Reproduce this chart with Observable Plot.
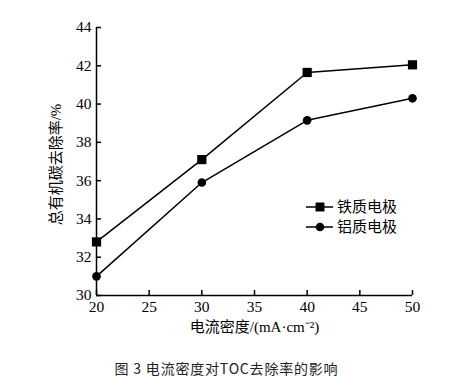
<!DOCTYPE html>
<html><head><meta charset="utf-8">
<script src="https://cdn.jsdelivr.net/npm/d3@7"></script>
<script src="https://cdn.jsdelivr.net/npm/@observablehq/plot@0.6"></script>
<style>
body{margin:0;background:#fff;}
#wrap{position:relative;width:453px;height:392px;}
#cap{position:absolute;left:0;top:358px;width:453px;text-align:center;font:14px "Noto Sans CJK SC",sans-serif;letter-spacing:0.8px;color:#222;}
#legend{position:absolute;left:300px;top:195px;}
</style></head>
<body><div id="wrap"><div id="chart"></div><div id="legend"></div><div id="cap"></div></div>
<script>
const density = [20, 30, 40, 50];
const ironRemoval = [32.8, 37.1, 41.65, 42.05];
const aluminumRemoval = [31.0, 35.9, 39.15, 40.3];
const seriesNames = ["铁质电极", "铝质电极"];
const xTicks = [20, 25, 30, 35, 40, 45, 50];
const yTicks = [30, 32, 34, 36, 38, 40, 42, 44];
const xLabel = "电流密度/(mA·cm⁻²)";
const yLabel = "总有机碳去除率/%";
const caption = "图 3 电流密度对TOC去除率的影响";

const fe = density.map((x, i) => ({x, y: ironRemoval[i]}));
const al = density.map((x, i) => ({x, y: aluminumRemoval[i]}));
const font = "'Liberation Serif', 'Times New Roman', 'Noto Sans CJK SC', serif";

const chart = Plot.plot({
  width: 453, height: 345,
  marginLeft: 96, marginRight: 41, marginTop: 27, marginBottom: 50,
  style: {fontFamily: font, fontSize: "15px", color: "#000", background: "#fff"},
  x: {domain: [20, 50]},
  y: {domain: [30, 44]},
  marks: [
    Plot.axisY({ticks: yTicks, tickSize: 0, tickPadding: 5, label: null, fontSize: 15.5, fontFamily: font}),
    Plot.axisY({ticks: yTicks, tickSize: -5, tickFormat: () => "", label: null, strokeWidth: 1.5}),
    Plot.axisX({ticks: xTicks, tickSize: 0, tickPadding: 5, label: null, fontSize: 15.5, fontFamily: font}),
    Plot.axisX({ticks: xTicks, tickSize: -5, tickFormat: () => "", label: null, strokeWidth: 1.5}),
    Plot.ruleX([20], {stroke: "#000", strokeWidth: 1.5}),
    Plot.ruleY([30], {stroke: "#000", strokeWidth: 1.5}),
    Plot.text([xLabel], {frameAnchor: "bottom", dy: 36, fontSize: 15, fontFamily: font}),
    Plot.text([yLabel], {frameAnchor: "left", dx: -40, dy: 3, rotate: -90, textAnchor: "middle", fontSize: 15, fontFamily: font}),
    Plot.line(fe, {x: "x", y: "y", stroke: "#000", strokeWidth: 1.5}),
    Plot.line(al, {x: "x", y: "y", stroke: "#000", strokeWidth: 1.5}),
    Plot.dot(fe, {x: "x", y: "y", symbol: "square", r: 5.2, fill: "#000"}),
    Plot.dot(al, {x: "x", y: "y", symbol: "circle", r: 4.3, fill: "#000"})
  ]
});
document.getElementById("chart").appendChild(chart);
document.getElementById("cap").textContent = caption;

// legend
const lg = d3.select("#legend").append("svg").attr("width", 120).attr("height", 45)
  .style("font-family", font).style("font-size", "15px");
seriesNames.forEach((name, i) => {
  const g = lg.append("g").attr("transform", `translate(0,${12 + i * 20})`);
  g.append("line").attr("x1", 6).attr("x2", 33).attr("stroke", "#000").attr("stroke-width", 1.5);
  g.append("path").attr("transform", "translate(20,0)")
    .attr("d", d3.symbol(i === 0 ? d3.symbolSquare : d3.symbolCircle, i === 0 ? 80 : 58)());
  g.append("text").attr("x", 37).attr("dy", "0.35em").text(name);
});
</script></body></html>
